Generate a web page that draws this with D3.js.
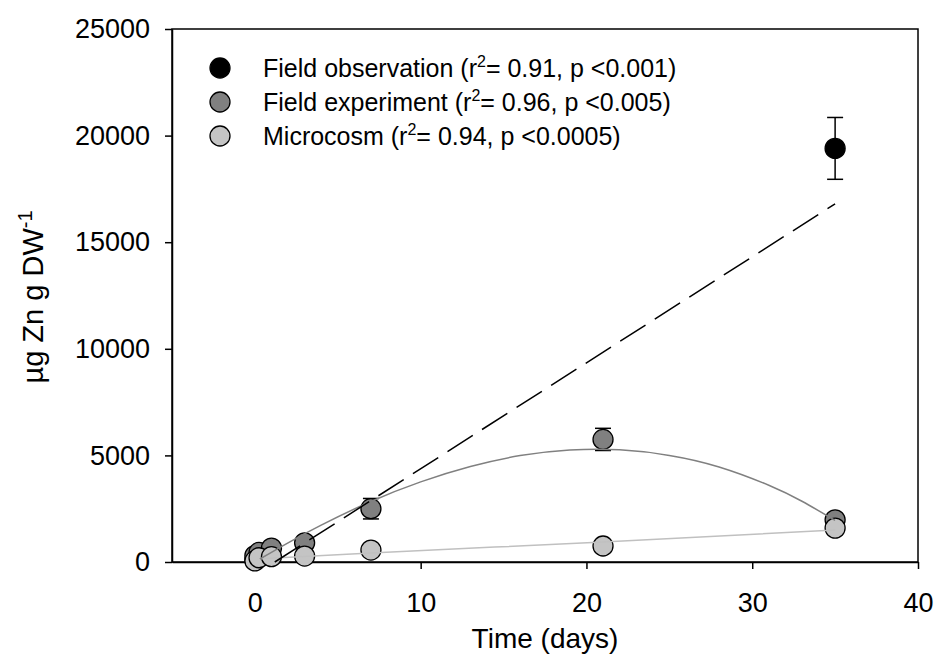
<!DOCTYPE html>
<html>
<head>
<meta charset="utf-8">
<script src="https://d3js.org/d3.v7.min.js"></script>
<style>
  body { margin: 0; background: #fff; }
  text { font-family: "Liberation Sans", Arial, sans-serif; fill: #000; }
</style>
</head>
<body>
<script>
// data
var obsDays = [0, 35];
var obsValues = [100, 19400];
var obsErr = [0, 1450];

var expDays = [0, 0.25, 1, 3, 7, 21, 35];
var expValues = [300, 450, 650, 900, 2500, 5750, 1980];
var expErr = [0, 0, 0, 0, 480, 520, 0];

var micDays = [0, 0.25, 1, 3, 7, 21, 35];
var micValues = [50, 200, 250, 280, 560, 750, 1590];

// fitted lines
var obsFitDays = [1.2, 35];
var obsFitValues = [0, 16800];
var expFitDays = [0.3, 2, 4, 7, 10, 13, 16, 19, 22, 25, 28, 31, 33, 35];
var expFitValues = [140, 900, 1730, 2840, 3760, 4480, 4990, 5250, 5260, 5000, 4460, 3600, 2850, 1950];
var micFitDays = [0.3, 7, 21, 35];
var micFitValues = [150, 420, 940, 1500];

var xTicks = [0, 10, 20, 30, 40];
var yTicks = [0, 5000, 10000, 15000, 20000, 25000];

var width = 935, height = 658;
var pLeft = 172, pRight = 918, pTop = 29, pBottom = 562;

var svg = d3.select("body").append("svg")
    .attr("width", width)
    .attr("height", height);

var x = d3.scaleLinear().domain([-5, 40]).range([pLeft, pRight]);
var y = d3.scaleLinear().domain([0, 25000]).range([pBottom, pTop]);

// frame
svg.append("rect")
    .attr("x", pLeft).attr("y", pTop)
    .attr("width", pRight - pLeft).attr("height", pBottom - pTop)
    .attr("fill", "none")
    .style("stroke", "#000").style("stroke-width", 1.5);

// axes
var xAxis = svg.append("g")
    .attr("transform", "translate(0," + pBottom + ")")
    .call(d3.axisBottom(x).tickValues(xTicks).tickSize(7).tickSizeOuter(0).tickPadding(24));
var yAxis = svg.append("g")
    .attr("transform", "translate(" + pLeft + ",0)")
    .call(d3.axisLeft(y).tickValues(yTicks).tickSize(7).tickSizeOuter(0).tickPadding(15).tickFormat(d3.format("d")));

[xAxis, yAxis].forEach(function(g) {
    g.select(".domain").style("stroke", "#000").style("stroke-width", 1.5);
    g.selectAll(".tick line").style("stroke", "#000").style("stroke-width", 1.5);
    g.selectAll(".tick text")
        .style("font-family", '"Liberation Sans", Arial, sans-serif')
        .style("font-size", "27px")
        .attr("fill", "#000");
});

// axis titles
svg.append("text")
    .attr("x", 545)
    .attr("y", 648)
    .attr("text-anchor", "middle")
    .style("font-size", "28px")
    .text("Time (days)");

var yt = svg.append("text")
    .attr("transform", "translate(43,297) rotate(-90)")
    .attr("text-anchor", "middle")
    .style("font-size", "29px");
yt.append("tspan").text("µg Zn g DW");
yt.append("tspan").attr("dy", -11).style("font-size", "20px").text("-1");

// helpers
function toPts(days, vals) {
    return days.map(function(d, i) { return { t: d, v: vals[i] }; });
}

function drawSeries(days, vals, errs, fill) {
    var pts = toPts(days, vals).map(function(p, i) { p.e = errs ? errs[i] : 0; return p; });
    var g = svg.append("g");
    var eb = pts.filter(function(p) { return p.e > 0; });
    eb.forEach(function(p) {
        g.append("line")
            .attr("x1", x(p.t)).attr("x2", x(p.t))
            .attr("y1", y(p.v + p.e)).attr("y2", y(p.v - p.e))
            .style("stroke", "#000").style("stroke-width", 1.5);
        [p.v + p.e, p.v - p.e].forEach(function(v) {
            g.append("line")
                .attr("x1", x(p.t) - 8).attr("x2", x(p.t) + 8)
                .attr("y1", y(v)).attr("y2", y(v))
                .style("stroke", "#000").style("stroke-width", 1.5);
        });
    });
    g.selectAll("circle").data(pts).enter().append("circle")
        .attr("cx", function(d) { return x(d.t); })
        .attr("cy", function(d) { return y(d.v); })
        .attr("r", 10)
        .attr("fill", fill)
        .style("stroke", "#000").style("stroke-width", 1.3);
}

drawSeries(obsDays, obsValues, obsErr, "#000");
drawSeries(expDays, expValues, expErr, "#808080");
drawSeries(micDays, micValues, null, "#c4c4c4");

// fitted lines on top
var line = d3.line()
    .x(function(d) { return x(d.t); })
    .y(function(d) { return y(d.v); });

svg.append("path")
    .datum(toPts(micFitDays, micFitValues))
    .attr("d", line.curve(d3.curveMonotoneX))
    .attr("fill", "none")
    .style("stroke", "#c0c0c0").style("stroke-width", 1.5);

svg.append("path")
    .datum(toPts(expFitDays, expFitValues))
    .attr("d", line.curve(d3.curveNatural))
    .attr("fill", "none")
    .style("stroke", "#808080").style("stroke-width", 1.5);

svg.append("path")
    .datum(toPts(obsFitDays, obsFitValues))
    .attr("d", line.curve(d3.curveLinear))
    .attr("fill", "none")
    .style("stroke", "#000").style("stroke-width", 1.5)
    .style("stroke-dasharray", "30,11");

// legend
var legendNames = ["Field observation", "Field experiment", "Microcosm"];
var legendR2 = ["0.91", "0.96", "0.94"];
var legendP = ["0.001", "0.005", "0.0005"];
var legendFill = ["#000", "#808080", "#c4c4c4"];

legendNames.forEach(function(name, i) {
    var cy = 68 + i * 34;
    svg.append("circle")
        .attr("cx", 220).attr("cy", cy).attr("r", 10)
        .attr("fill", legendFill[i])
        .style("stroke", "#000").style("stroke-width", 1.3);
    var t = svg.append("text")
        .attr("x", 263).attr("y", cy + 9)
        .style("font-size", "25px");
    t.append("tspan").text(name + " (r");
    t.append("tspan").attr("dy", -10).style("font-size", "16px").text("2");
    t.append("tspan").attr("dy", 10).text("= " + legendR2[i] + ", p <" + legendP[i] + ")");
});
</script>
</body>
</html>
